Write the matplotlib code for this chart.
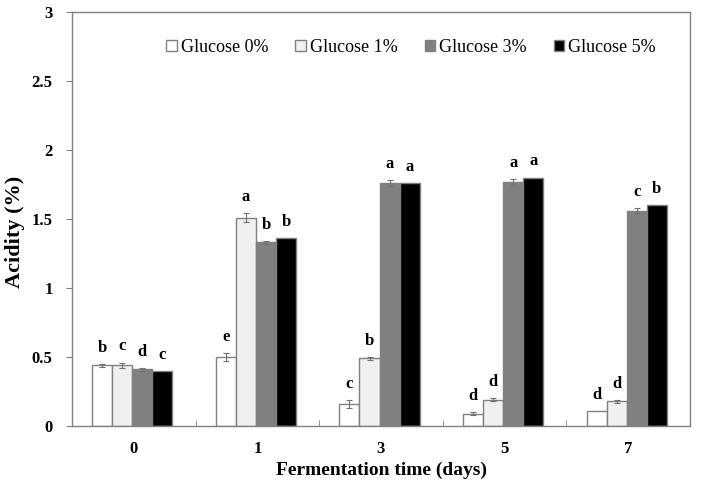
import matplotlib
matplotlib.use("Agg")
import matplotlib.pyplot as plt
import numpy as np

days = ["0", "1", "3", "5", "7"]
series = ["Glucose 0%", "Glucose 1%", "Glucose 3%", "Glucose 5%"]
values = {
    "Glucose 0%": [0.44, 0.50, 0.16, 0.09, 0.11],
    "Glucose 1%": [0.44, 1.51, 0.49, 0.19, 0.18],
    "Glucose 3%": [0.41, 1.33, 1.76, 1.77, 1.56],
    "Glucose 5%": [0.40, 1.36, 1.76, 1.80, 1.60],
}
errors = {
    "Glucose 0%": [0.01, 0.03, 0.03, 0.01, 0.0],
    "Glucose 1%": [0.02, 0.03, 0.01, 0.01, 0.01],
    "Glucose 3%": [0.01, 0.01, 0.02, 0.02, 0.02],
    "Glucose 5%": [0.0, 0.0, 0.0, 0.0, 0.0],
}
letters = {
    "Glucose 0%": ["b", "e", "c", "d", "d"],
    "Glucose 1%": ["c", "a", "b", "d", "d"],
    "Glucose 3%": ["d", "b", "a", "a", "c"],
    "Glucose 5%": ["c", "b", "a", "a", "b"],
}
colors = ["#ffffff", "#f0f0f0", "#808080", "#000000"]

plt.rcParams['font.family'] = ['Liberation Serif', 'DejaVu Serif']

fig = plt.figure(figsize=(7.01, 4.80), dpi=100)
ax = fig.add_axes([72/701, 1-426/480, (690-72)/701, (426-12)/480])

x = np.arange(len(days))
w = 0.162
for i, s in enumerate(series):
    pos = x + (i - 1.5) * w - 0.012
    ax.bar(pos, values[s], width=w, color=colors[i], edgecolor="#808080",
           linewidth=1.0, label=s, zorder=2)
    for p, v, e, l in zip(pos, values[s], errors[s], letters[s]):
        if e > 0:
            ax.errorbar(p, v, yerr=e, color="#707070", capsize=2.5,
                        elinewidth=0.8, capthick=0.8, zorder=3)
        ax.text(p, v + e + 0.06, l, ha="center", va="bottom",
                fontsize=12, fontweight="bold")

ax.set_xlim(-0.5, len(days) - 0.5)
ax.set_ylim(0, 3)
ax.set_yticks(np.arange(0, 3.01, 0.5))
ax.set_yticklabels(["0", "0.5", "1", "1.5", "2", "2.5", "3"])
ax.set_xticks(x)
ax.set_xticklabels(days)
ax.set_xticks(np.arange(-0.5, len(days), 1.0), minor=True)
ax.tick_params(axis="x", which="major", length=0, pad=11, labelsize=12)
ax.tick_params(axis="x", which="minor", direction="in", length=4, color="#808080")
ax.tick_params(axis="y", direction="out", length=4, color="#808080", labelsize=12, pad=10)
for lab in ax.get_xticklabels() + ax.get_yticklabels():
    lab.set_fontweight("bold")
for sp in ax.spines.values():
    sp.set_color("#808080")
    sp.set_linewidth(1.0)

fig.text(15/701, 1-232/480, "Acidity (%)", rotation=90, ha="center", va="center",
         fontsize=16, fontweight="bold")
fig.text((72+690)/2/701, 1/480, "Fermentation time (days)", ha="center",
         va="bottom", fontsize=14, fontweight="bold")

leg = ax.legend(loc="upper right", ncol=4, frameon=False, fontsize=13,
                bbox_to_anchor=(0.965, 0.965), handlelength=0.6, handleheight=0.6,
                handletextpad=0.2, columnspacing=1.5, borderaxespad=0.3)

fig.savefig("out.png", dpi=100)
